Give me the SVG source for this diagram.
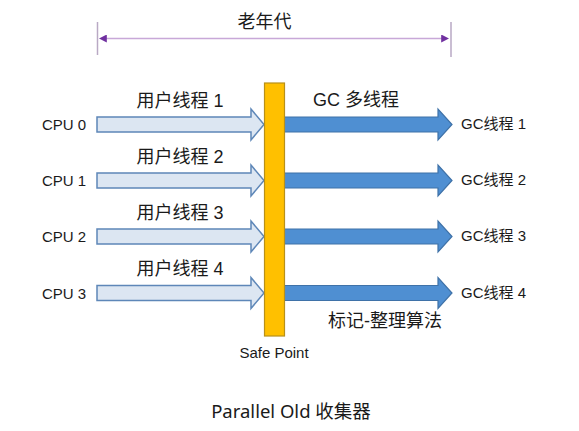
<svg xmlns="http://www.w3.org/2000/svg" width="579" height="431" viewBox="0 0 579 431">
<style>
.t{font-family:"Liberation Sans","Noto Sans CJK SC",sans-serif;fill:#1a1a1a}
.s14{font-size:15px}
.s18{font-size:18px}
.in{fill:#DCE6F2;stroke:#5E87B8;stroke-width:1.5}
.out{fill:#4F8FD2;stroke:#3F72A8;stroke-width:1.2}
</style>
<defs>
<marker id="pa" viewBox="0 0 10 10" refX="1" refY="5" markerWidth="8" markerHeight="8" orient="auto-start-reverse" markerUnits="userSpaceOnUse">
<path d="M0,0 L10,5 L0,10 Z" fill="#7030A0"/>
</marker>
</defs>
<rect width="579" height="431" fill="#ffffff"/>
<g id="dimension">
<line x1="97.5" y1="22" x2="97.5" y2="55" stroke="#B9A9C4" stroke-width="1.5"/>
<line x1="451" y1="22" x2="451" y2="57" stroke="#B9A9C4" stroke-width="1.5"/>
<line x1="106" y1="38.5" x2="442" y2="38.5" stroke="#C8A8D8" stroke-width="1.5" marker-start="url(#pa)" marker-end="url(#pa)"/>
<text class="t s18" x="264.5" y="28" text-anchor="middle">老年代</text>
</g>
<g id="connectors">
<path class="in" d="M97,117 H251 V109 L264,124.5 L251,140 V132 H97 Z"/>
<path class="in" d="M97,173 H251 V165 L264,180.5 L251,196 V188 H97 Z"/>
<path class="in" d="M97,229 H251 V221 L264,236.5 L251,252 V244 H97 Z"/>
<path class="in" d="M97,285.5 H251 V277.5 L264,293 L251,308.5 V300.5 H97 Z"/>
<path class="out" d="M284,117 H438 V109 L452,124.5 L438,140 V132 H284 Z"/>
<path class="out" d="M284,173 H438 V165 L452,180.5 L438,196 V188 H284 Z"/>
<path class="out" d="M284,229 H438 V221 L452,236.5 L438,252 V244 H284 Z"/>
<path class="out" d="M284,285.5 H438 V277.5 L452,293 L438,308.5 V300.5 H284 Z"/>
</g>
<g id="safepoint">
<rect x="264.5" y="83" width="20" height="253" fill="#FFC000" stroke="#B8901A" stroke-width="1.2"/>
<text class="t" x="274" y="358" text-anchor="middle" font-size="15">Safe Point</text>
</g>
<g id="cpu0"><text class="t s14" x="64" y="130" text-anchor="middle">CPU 0</text></g>
<g id="cpu1"><text class="t s14" x="64" y="186" text-anchor="middle">CPU 1</text></g>
<g id="cpu2"><text class="t s14" x="64" y="242" text-anchor="middle">CPU 2</text></g>
<g id="cpu3"><text class="t s14" x="64" y="299" text-anchor="middle">CPU 3</text></g>
<g id="labels-user">
<text class="t s18" x="180" y="107" text-anchor="middle">用户线程 1</text>
<text class="t s18" x="180" y="163" text-anchor="middle">用户线程 2</text>
<text class="t s18" x="180" y="219" text-anchor="middle">用户线程 3</text>
<text class="t s18" x="180" y="275" text-anchor="middle">用户线程 4</text>
<text class="t s18" x="356" y="106" text-anchor="middle">GC 多线程</text>
<text class="t s18" x="385" y="327" text-anchor="middle">标记-整理算法</text>
</g>
<g id="gc1"><text class="t s14" x="461" y="129">GC线程 1</text></g>
<g id="gc2"><text class="t s14" x="461" y="185">GC线程 2</text></g>
<g id="gc3"><text class="t s14" x="461" y="241">GC线程 3</text></g>
<g id="gc4"><text class="t s14" x="461" y="298">GC线程 4</text></g>
<g id="caption"><text x="291" y="418" text-anchor="middle" font-family="'Noto Sans','Noto Sans CJK SC',sans-serif" font-size="18.5" fill="#1a1a1a">Parallel Old 收集器</text></g>
</svg>
